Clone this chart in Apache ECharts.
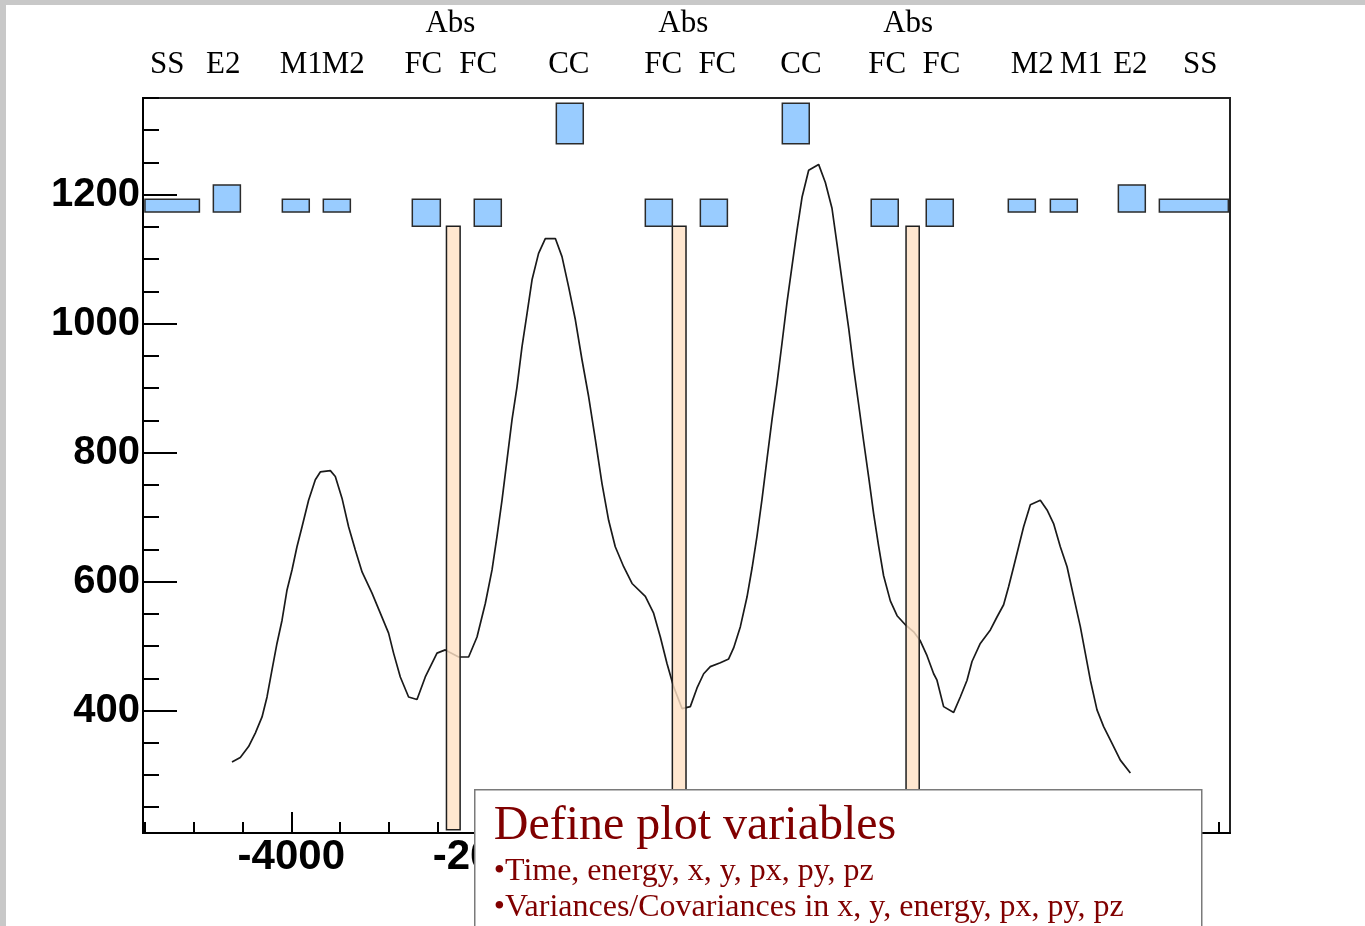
<!DOCTYPE html>
<html>
<head>
<meta charset="utf-8">
<script src="https://cdn.jsdelivr.net/npm/echarts@6/dist/echarts.min.js"></script>
<style>
  html, body { margin: 0; padding: 0; background: #ffffff; }
  #chart { width: 1365px; height: 926px; }
</style>
</head>
<body>
<div id="chart"></div>
<script>
// Cooling-cell elements along the beam axis: [start, end] in x, [low, high] in plot units
const elementNames = ['SS', 'E2', 'M1', 'M2', 'FC', 'FC', 'CC', 'FC', 'FC', 'CC', 'FC', 'FC', 'M2', 'M1', 'E2', 'SS'];
const elementStart = [-5500, -4799, -4092, -3672, -2760, -2125, -1284, -372, 192, 1032, 1943, 2507, 3348, 3779, 4476, 4896];
const elementEnd   = [-4942, -4522, -3816, -3395, -2473, -1848, -1008, -95, 469, 1308, 2220, 2784, 3625, 4055, 4752, 5603];
const elementLow   = [1173, 1173, 1173, 1173, 1151, 1151, 1279, 1151, 1151, 1279, 1151, 1151, 1173, 1173, 1173, 1173];
const elementHigh  = [1193, 1215, 1193, 1193, 1193, 1193, 1342, 1193, 1193, 1342, 1193, 1193, 1193, 1193, 1215, 1193];

// Absorber slabs
const absorberStart = [-2410, -95, 2300];
const absorberEnd   = [-2270, 45, 2435];
const absorberLow   = [215, 215, 215];
const absorberHigh  = [1151, 1151, 1151];

// Profile along the cell
const curveX = [-4608, -4523, -4438, -4369, -4300, -4249, -4198, -4147, -4095, -4044,
  -3993, -3942, -3890, -3823, -3754, -3703, -3600, -3549, -3480, -3413,
  -3344, -3275, -3173, -3088, -3003, -2952, -2883, -2798, -2712, -2627,
  -2507, -2422, -2285, -2183, -2097, -2012, -1943, -1892, -1841, -1789,
  -1738, -1687, -1636, -1584, -1533, -1466, -1397, -1294, -1226, -1158,
  -1089, -1021, -953, -884, -816, -748, -680, -594, -508, -372,
  -287, -218, -150, -82, 4, 89, 158, 226, 294, 397,
  482, 533, 602, 670, 722, 773, 824, 875, 927, 978,
  1029, 1080, 1131, 1183, 1234, 1302, 1404, 1473, 1541, 1593,
  1660, 1712, 1763, 1814, 1865, 1917, 1968, 2019, 2070, 2139,
  2208, 2293, 2378, 2446, 2515, 2583, 2617, 2685, 2788, 2856,
  2925, 2976, 3061, 3164, 3232, 3300, 3351, 3403, 3454, 3505,
  3574, 3676, 3745, 3812, 3881, 3950, 4017, 4086, 4137, 4189,
  4257, 4325, 4411, 4496, 4599];
const curveY = [320, 327, 344, 365, 390, 421, 463, 504, 540, 587,
  618, 654, 685, 726, 758, 770, 772, 763, 729, 685,
  649, 615, 582, 551, 520, 489, 452, 421, 417, 452,
  489, 494, 483, 483, 514, 566, 618, 670, 726, 789,
  851, 902, 964, 1016, 1068, 1109, 1132, 1132, 1104, 1057,
  1006, 944, 887, 820, 752, 695, 654, 623, 597, 577,
  551, 514, 473, 437, 403, 406, 435, 457, 468, 474,
  480, 497, 530, 576, 621, 671, 728, 790, 852, 908,
  970, 1033, 1089, 1145, 1196, 1238, 1247, 1219, 1179, 1123,
  1049, 993, 931, 875, 818, 762, 705, 655, 609, 570,
  547, 533, 522, 508, 485, 457, 447, 406, 397, 421,
  447, 476, 504, 525, 545, 564, 592, 623, 654, 685,
  719, 726, 711, 690, 654, 623, 577, 530, 489, 447,
  401, 375, 349, 323, 303];

// Header labels above the frame (x in axis units)
const headerNames = ['SS', 'E2', 'M1', 'M2', 'FC', 'FC', 'CC', 'FC', 'FC', 'CC', 'FC', 'FC', 'M2', 'M1', 'E2', 'SS'];
const headerX = [-5271, -4697, -3898, -3467, -2647, -2084, -1156, -188, 366, 1223, 2108, 2662, 3594, 4097, 4599, 5316];
const absNames = ['Abs', 'Abs', 'Abs'];
const absX = [-2370, 17, 2322];

// Axis ticks
const yMajor = [400, 600, 800, 1000, 1200];
const yMinor = [250, 300, 350, 400, 450, 500, 550, 600, 650, 700, 750, 800, 850, 900, 950, 1000, 1050, 1100, 1150, 1200, 1250, 1300, 1350];
const xMajor = [-4000, -2000, 0, 2000, 4000];
const xMinor = [-5500, -5000, -4500, -4000, -3500, -3000, -2500, -2000, -1500, -1000, -500, 0, 500, 1000, 1500, 2000, 2500, 3000, 3500, 4000, 4500, 5000, 5500];

// Note box text
const noteTitle = 'Define plot variables';
const noteLines = ['\u2022Time, energy, x, y, px, py, pz', '\u2022Variances/Covariances in x, y, energy, px, py, pz'];

const X_MIN = -5520, X_MAX = 5620, Y_MIN = 210, Y_MAX = 1350;
const serif = '"Liberation Serif", "Times New Roman", serif';
const sans = '"Liberation Sans", Arial, sans-serif';

const chart = echarts.init(document.getElementById('chart'));

function rectItem(fill, stroke) {
  return function (params, api) {
    const a = api.coord([api.value(0), api.value(3)]);
    const b = api.coord([api.value(1), api.value(2)]);
    return {
      type: 'rect',
      shape: { x: a[0], y: a[1], width: b[0] - a[0], height: b[1] - a[1] },
      style: { fill: fill, stroke: stroke, lineWidth: 1.5, opacity: 1 }
    };
  };
}

const plain = function (v) { return String(v); };

const axisBase = {
  type: 'value',
  splitLine: { show: false },
  axisLine: { show: false, onZero: false },
  axisLabel: { show: false },
  axisTick: { show: false }
};

const option = {
  animation: false,
  backgroundColor: '#ffffff',
  grid: {
    left: 143, top: 98, width: 1087, height: 735,
    containLabel: false,
    show: true, borderColor: '#222', borderWidth: 2, backgroundColor: 'transparent'
  },
  xAxis: [
    Object.assign({}, axisBase, {
      min: X_MIN, max: X_MAX, position: 'bottom',
      axisLine: { show: true, onZero: false, lineStyle: { color: '#000', width: 2 } },
      axisTick: { show: true, inside: true, length: 21, customValues: xMajor, lineStyle: { color: '#000', width: 2 } },
      axisLabel: {
        show: true, customValues: xMajor, margin: 3, color: '#000', formatter: plain,
        fontFamily: sans, fontWeight: 'bold', fontSize: 42
      }
    }),
    Object.assign({}, axisBase, {
      min: X_MIN, max: X_MAX, position: 'bottom',
      axisTick: { show: true, inside: true, length: 11, customValues: xMinor, lineStyle: { color: '#000', width: 2 } }
    })
  ],
  yAxis: [
    Object.assign({}, axisBase, {
      min: Y_MIN, max: Y_MAX, position: 'left',
      axisLine: { show: true, onZero: false, lineStyle: { color: '#000', width: 2 } },
      axisTick: { show: true, inside: true, length: 34, customValues: yMajor, lineStyle: { color: '#000', width: 2 } },
      axisLabel: {
        show: true, customValues: yMajor, margin: 3, color: '#000', formatter: plain,
        fontFamily: sans, fontWeight: 'bold', fontSize: 40
      }
    }),
    Object.assign({}, axisBase, {
      min: Y_MIN, max: Y_MAX, position: 'left',
      axisTick: { show: true, inside: true, length: 16, customValues: yMinor, lineStyle: { color: '#000', width: 2 } }
    })
  ],
  series: [
    {
      type: 'line',
      name: 'profile',
      xAxisIndex: 0, yAxisIndex: 0,
      data: curveX.map((x, i) => [x, curveY[i]]),
      showSymbol: false,
      smooth: false,
      lineStyle: { color: '#1a1a1a', width: 1.7 },
      z: 2
    },
    {
      type: 'custom',
      name: 'absorbers',
      xAxisIndex: 0, yAxisIndex: 0,
      data: absorberStart.map((s, i) => [s, absorberEnd[i], absorberLow[i], absorberHigh[i]]),
      encode: { x: [0, 1], y: [2, 3] },
      renderItem: function (params, api) {
        const a = api.coord([api.value(0), api.value(3)]);
        const b = api.coord([api.value(1), api.value(2)]);
        return {
          type: 'group',
          children: [
            { type: 'rect', shape: { x: a[0], y: a[1], width: b[0] - a[0], height: b[1] - a[1] },
              style: { fill: 'rgba(255,226,198,0.82)', stroke: 'none' } },
            { type: 'rect', shape: { x: a[0], y: a[1], width: b[0] - a[0], height: b[1] - a[1] },
              style: { fill: 'none', stroke: '#1e1e1e', lineWidth: 1.5 } }
          ]
        };
      },
      z: 3
    },
    {
      type: 'custom',
      name: 'elements',
      xAxisIndex: 0, yAxisIndex: 0,
      data: elementStart.map((s, i) => [s, elementEnd[i], elementLow[i], elementHigh[i], elementNames[i]]),
      encode: { x: [0, 1], y: [2, 3] },
      renderItem: rectItem('#99ccff', '#2b2b2b'),
      z: 4
    },
    {
      type: 'custom',
      name: 'headers',
      xAxisIndex: 0, yAxisIndex: 0,
      clip: false,
      silent: true,
      data: headerX.map((x, i) => [x, 0, i]).concat(absX.map((x, i) => [x, 1, i])),
      renderItem: function (params, api) {
        const row = api.value(1);
        const idx = api.value(2);
        const p = api.coord([api.value(0), Y_MAX]);
        const text = row === 0 ? headerNames[idx] : absNames[idx];
        return {
          type: 'text',
          x: p[0],
          y: p[1] - (row === 0 ? 33 : 74),
          style: {
            text: text, fill: '#000', font: '31px ' + serif,
            align: 'center', verticalAlign: 'middle'
          }
        };
      },
      z: 5
    }
  ],
  graphic: [
    { type: 'rect', left: 0, top: 0, shape: { width: 1365, height: 5 }, style: { fill: '#c8c8c8' }, z: 200 },
    { type: 'rect', left: 0, top: 0, shape: { width: 6, height: 926 }, style: { fill: '#c8c8c8' }, z: 200 },
    {
      type: 'group', left: 474, top: 789, z: 100,
      children: [
        { type: 'rect', shape: { x: 0, y: 0, width: 727, height: 160 },
          style: { fill: '#ffffff', stroke: '#7a7a7a', lineWidth: 1.5 }, z: 100 },
        { type: 'text', x: 19, y: 37, z: 101,
          style: { text: noteTitle, fill: '#800000', font: '48px ' + serif, verticalAlign: 'middle' } },
        { type: 'text', x: 19, y: 82, z: 101,
          style: { text: noteLines[0], fill: '#800000', font: '32px ' + serif, verticalAlign: 'middle' } },
        { type: 'text', x: 19, y: 118, z: 101,
          style: { text: noteLines[1], fill: '#800000', font: '32px ' + serif, verticalAlign: 'middle' } }
      ]
    }
  ]
};

chart.setOption(option);
</script>
</body>
</html>
